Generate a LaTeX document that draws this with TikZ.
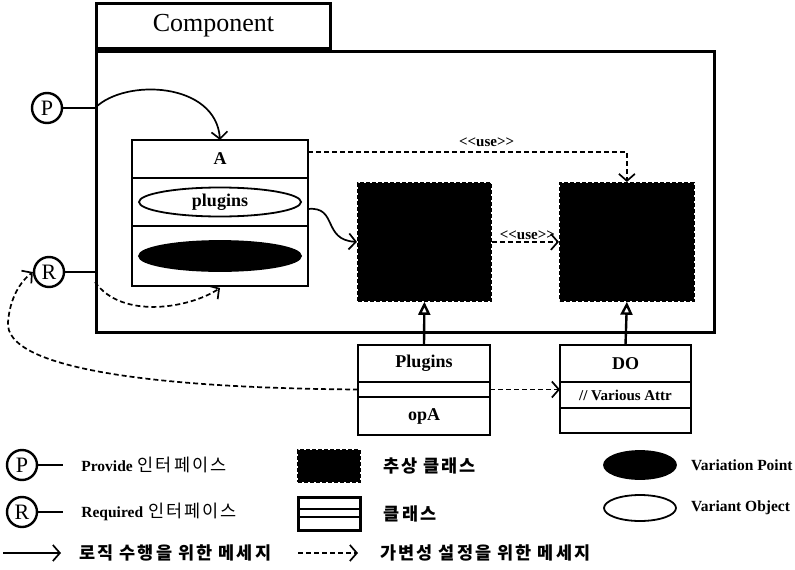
\documentclass[tikz,border=0pt]{standalone}
\usepackage{fontspec}
\setmainfont{Liberation Serif}
\newfontfamily\krfont{Noto Sans CJK KR}[LetterSpace=12]
\newcommand\kr{\krfont\fontsize{17.5}{20}\selectfont}
\usetikzlibrary{positioning,shapes.geometric,arrows.meta}

\begin{document}
\begin{tikzpicture}[
    x=1pt, y=-1pt,
    font=\fontsize{13}{15}\selectfont,
    cell/.style={draw, line width=2.6pt, inner sep=0pt, outer sep=0pt, anchor=north west, font=\fontsize{18}{20}\selectfont\bfseries},
    absbox/.style={draw, fill=black, dash pattern=on 4pt off 2pt, line width=1.8pt, inner sep=0pt, anchor=north west},
    iface/.style={circle, draw, line width=2.4pt, minimum size=30pt, inner sep=0pt, font=\fontsize{22}{22}\selectfont},
    vobj/.style={ellipse, draw, line width=1.8pt, inner sep=0pt, font=\fontsize{18}{20}\selectfont\bfseries},
    legtxt/.style={anchor=west, inner sep=0pt, font=\fontsize{15.5}{17}\selectfont\bfseries},
    msg/.style={-{Straight Barb[length=7pt,width=16pt]}, line width=1.7pt},
    var/.style={msg, dash pattern=on 5pt off 3pt},
    gen/.style={-{Triangle[open, fill=white, length=13pt, width=12pt]}, line width=2.4pt},
    uselbl/.style={font=\fontsize{15}{17}\selectfont\bfseries, inner sep=1pt},
]
\useasboundingbox (0,0) rectangle (795,570);

% Component frame
\node[draw, line width=3pt, anchor=north west, minimum width=618pt, minimum height=281pt, inner sep=0pt] (frame) at (95,50) {};
\node[draw, line width=3pt, anchor=south west, minimum width=234pt, minimum height=45pt, inner sep=0pt, font=\fontsize{26}{28}\selectfont] (tab) at (frame.north west) {Component};

% Class A with its compartments
\node[cell, minimum width=176pt, minimum height=38pt] (Atitle) at (132,140) {A};
\node[cell, minimum width=176pt, minimum height=48pt, below=0pt of Atitle] (Aplug) {};
\node[cell, minimum width=176pt, minimum height=60pt, below=0pt of Aplug] (Avp) {};
\node[vobj, minimum width=162pt, minimum height=29pt] (plugEl) at (Aplug) {plugins};
\node[vobj, fill=black, minimum width=162pt, minimum height=30pt] (vpEl) at (Avp) {};

% Abstract classes
\node[absbox, minimum width=133pt, minimum height=118pt] (abs1) at (357,182) {};
\node[absbox, minimum width=134pt, minimum height=118pt] (abs2) at (559,182) {};

% Classes Plugins and DO
\node[cell, minimum width=132pt, minimum height=37pt] (pl1) at (358,345) {Plugins};
\node[cell, minimum width=132pt, minimum height=15pt, below=0pt of pl1] (pl2) {};
\node[cell, minimum width=132pt, minimum height=38pt, below=0pt of pl2] (pl3) {opA};
\node[cell, minimum width=131pt, minimum height=37pt] (do1) at (560,345) {DO};
\node[cell, minimum width=131pt, minimum height=26pt, below=0pt of do1, font=\fontsize{15}{17}\selectfont\bfseries] (do2) {// Various Attr};
\node[cell, minimum width=131pt, minimum height=25pt, below=0pt of do2] (do3) {};

% Interfaces
\node[iface] (P) at (47,108) {P};
\node[iface] (R) at (49,272) {R};
\coordinate (Pport) at (frame.west |- P);
\coordinate (Rport) at (frame.west |- R);
\draw[line width=2.4pt] (P) -- (Pport);
\draw[line width=2.4pt] (R) -- (Rport);

% Messages
\draw[msg] (Pport) .. controls (125,78) and (216,82) .. (Atitle.north);
\draw[var] ([yshift=-10pt]Rport) .. controls (122,320) and (190,308) .. ([yshift=-2pt]Avp.south);
\draw[msg] ([yshift=-7pt]Aplug.east) .. controls (338,206) and (322,240) .. (abs1.west);
\draw[var] ([yshift=7pt]Atitle.east) -| node[pos=0.28, above, uselbl, yshift=3pt]{<{}<use>{}>} (abs2.north);
\draw[var] (abs1.east) -- node[above, uselbl, xshift=2pt]{<{}<use>{}>} (abs2.west);
\draw[var] (pl2.east) -- (pl2.east -| do2.west);
\draw[var] (pl2.west) .. controls (150,388) and (4,368) .. (8,322) .. controls (10,298) and (20,282) .. (R.west);

% Generalization
\draw[gen] (pl1.north) -- (abs1.south);
\draw[gen] (do1.north) -- (abs2.south);

% Legend
\node[iface] (lP) at (22,465) {P};
\coordinate[right=25pt of lP] (lPend);
\draw[line width=2.4pt] (lP) -- (lPend);
\node[legtxt, right=18pt of lPend] (lPtxt) {Provide\hspace{5pt}{\kr\mdseries 인터페이스}};

\node[iface] (lR) at (22,512) {R};
\coordinate[right=25pt of lR] (lRend);
\draw[line width=2.4pt] (lR) -- (lRend);
\node[legtxt, right=18pt of lRend] (lRtxt) {Required\hspace{5pt}{\kr\mdseries 인터페이스}};

\coordinate (lMa) at (3,553);
\coordinate[right=58pt of lMa] (lMb);
\draw[msg] (lMa) -- (lMb);
\node[legtxt, right=18pt of lMb] (lMtxt) {\kr 로직 수행을 위한 메세지};

\node[absbox, minimum width=62pt, minimum height=32pt] (lAbs) at (297,449) {};
\node[legtxt, right=22pt of lAbs] (lAbstxt) {\kr 추상 클래스};

\node[draw, line width=2.6pt, anchor=north west, minimum width=62pt, minimum height=33pt, inner sep=0pt] (lCls) at (297,496) {};
\draw[line width=2.2pt] ([yshift=5pt]lCls.west) -- ([yshift=5pt]lCls.east);
\draw[line width=2.2pt] ([yshift=-3pt]lCls.west) -- ([yshift=-3pt]lCls.east);
\node[legtxt, right=22pt of lCls] (lClstxt) {\kr 클래스};

\coordinate (lVa) at (298,553);
\coordinate[right=60pt of lVa] (lVb);
\draw[var] (lVa) -- (lVb);
\node[legtxt, right=22pt of lVb] (lVtxt) {\kr 가변성 설정을 위한 메세지};

\node[vobj, fill=black, minimum width=72pt, minimum height=28pt] (lVp) at (640,465) {};
\node[legtxt, right=14pt of lVp] (lVptxt) {Variation Point};
\node[vobj, minimum width=72pt, minimum height=26pt] (lVo) at (640,508) {};
\node[legtxt, right=14pt of lVo] (lVotxt) {Variant Object};

\end{tikzpicture}
\end{document}
